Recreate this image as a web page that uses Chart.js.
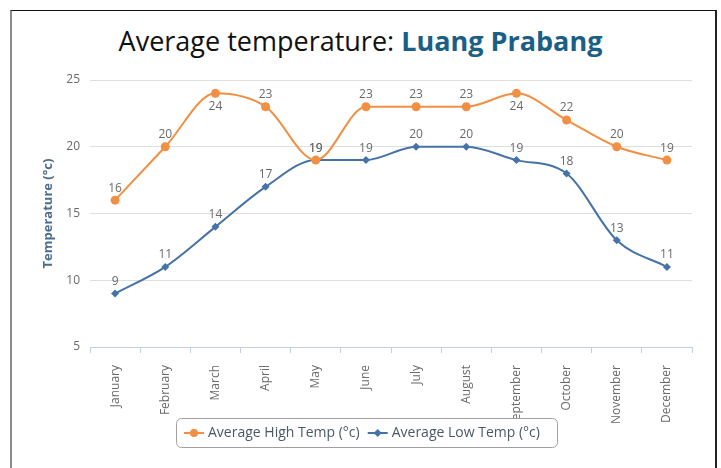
<!DOCTYPE html>
<html lang="en">
<head>
    <meta charset="UTF-8">
    <title>Average temperature: Luang Prabang</title>
    <script src="https://cdn.jsdelivr.net/npm/chart.js"></script>
    <style>
        body { margin: 0; background: #fff; width: 721px; height: 468px; overflow: hidden; position: relative; }
        .frame {
            position: absolute; left: 10px; top: 10px; width: 703px; height: 480px;
            border-top: 1px solid #111; border-left: 2px solid #8a8a8a; border-right: 2px solid #222;
        }
        .title {
            position: absolute; left: 0; top: 25px; width: 721px; text-align: center;
            font-family: "Open Sans", sans-serif; font-size: 27px; line-height: 32px; color: #111;
        }
        .title b { color: #1b5f86; }
        #chart { position: absolute; left: 0; top: 0; }
    </style>
</head>
<body>
    <div class="frame"></div>
    <div class="title">Average temperature: <b>Luang Prabang</b></div>
    <canvas id="chart" width="721" height="468"></canvas>

    <script>
        // Chart data
        const months = ['January', 'February', 'March', 'April', 'May', 'June',
                        'July', 'August', 'September', 'October', 'November', 'December'];
        const highTemps = [16, 20, 24, 23, 19, 23, 23, 23, 24, 22, 20, 19];
        const lowTemps = [9, 11, 14, 17, 19, 19, 20, 20, 19, 18, 13, 11];
        const yTicks = [5, 10, 15, 20, 25];

        const orange = '#f28f43';
        const blue = '#4572a7';

        // value labels above points (flipped below near the top edge)
        const valueLabels = {
            id: 'valueLabels',
            afterDatasetsDraw(chart) {
                const ctx = chart.ctx;
                ctx.save();
                ctx.font = '12px "Open Sans", sans-serif';
                ctx.fillStyle = '#6a6a6a';
                ctx.textAlign = 'center';
                ctx.textBaseline = 'middle';
                chart.data.datasets.forEach((ds, i) => {
                    chart.getDatasetMeta(i).data.forEach((pt, j) => {
                        let y = pt.y - 12;
                        if (y - 6 < chart.chartArea.top + 4) y = pt.y + 13;
                        ctx.fillText(ds.data[j], pt.x, y);
                    });
                });
                ctx.restore();
            }
        };

        // boxed legend drawn over the axis labels
        const boxLegend = {
            id: 'boxLegend',
            afterDraw(chart) {
                const ctx = chart.ctx;
                const bx = 176, by = 418, bw = 381, bh = 29;
                ctx.save();
                ctx.beginPath();
                ctx.roundRect(bx + 0.5, by + 0.5, bw, bh, 5);
                ctx.fillStyle = '#fff';
                ctx.fill();
                ctx.strokeStyle = '#a0a0a0';
                ctx.lineWidth = 1;
                ctx.stroke();

                ctx.font = '14px "Open Sans", sans-serif';
                ctx.textBaseline = 'middle';
                const cy = by + bh / 2 + 0.5;
                let x = bx + 8;
                chart.data.datasets.forEach(ds => {
                    ctx.strokeStyle = ds.borderColor;
                    ctx.lineWidth = 2;
                    ctx.beginPath();
                    ctx.moveTo(x, cy);
                    ctx.lineTo(x + 20, cy);
                    ctx.stroke();
                    ctx.fillStyle = ds.borderColor;
                    ctx.beginPath();
                    if (ds.pointStyle === 'rectRot') {
                        ctx.moveTo(x + 10, cy - 4);
                        ctx.lineTo(x + 14, cy);
                        ctx.lineTo(x + 10, cy + 4);
                        ctx.lineTo(x + 6, cy);
                        ctx.closePath();
                    } else {
                        ctx.arc(x + 10, cy, 4, 0, Math.PI * 2);
                    }
                    ctx.fill();
                    ctx.fillStyle = '#4a5866';
                    ctx.fillText(ds.label, x + 24, cy);
                    x += 24 + ctx.measureText(ds.label).width + 8;
                });
                ctx.restore();
            }
        };

        new Chart(document.getElementById('chart'), {
            type: 'line',
            data: {
                labels: months,
                datasets: [{
                    label: 'Average High Temp (°c)',
                    data: highTemps,
                    borderColor: orange,
                    backgroundColor: orange,
                    borderWidth: 2,
                    pointStyle: 'circle',
                    pointRadius: 4.5,
                    pointBorderWidth: 0,
                    cubicInterpolationMode: 'monotone'
                }, {
                    label: 'Average Low Temp (°c)',
                    data: lowTemps,
                    borderColor: blue,
                    backgroundColor: blue,
                    borderWidth: 2,
                    pointStyle: 'rectRot',
                    pointRadius: 4,
                    pointBorderWidth: 0,
                    cubicInterpolationMode: 'monotone'
                }]
            },
            options: {
                responsive: false,
                animation: false,
                devicePixelRatio: 1,
                layout: { padding: { left: 38, top: 80, right: 29, bottom: 0 } },
                plugins: {
                    legend: { display: false },
                    tooltip: { enabled: false }
                },
                scales: {
                    x: {
                        offset: true,
                        afterFit: scale => { scale.height = 121; },
                        grid: { drawOnChartArea: false, offset: true, tickLength: 6, color: '#c0d0e0' },
                        border: { color: '#c0d0e0' },
                        ticks: {
                            minRotation: 90, maxRotation: 90, padding: 12,
                            color: '#6a6a6a', font: { family: 'Open Sans', size: 12 }
                        }
                    },
                    y: {
                        min: yTicks[0],
                        max: yTicks[yTicks.length - 1],
                        afterFit: scale => { scale.width = 52; },
                        afterBuildTicks: scale => { scale.ticks = yTicks.map(v => ({ value: v })); },
                        grid: { color: '#dedede', drawTicks: false },
                        border: { display: false },
                        ticks: { padding: 10, color: '#6a6a6a', font: { family: 'Open Sans', size: 12 } },
                        title: {
                            display: true,
                            text: 'Temperature (°c)',
                            color: '#4d6d8d',
                            font: { family: 'Open Sans', size: 13, weight: 'bold' },
                            padding: { top: 2, bottom: 0 }
                        }
                    }
                }
            },
            plugins: [valueLabels, boxLegend]
        });
    </script>
</body>
</html>
